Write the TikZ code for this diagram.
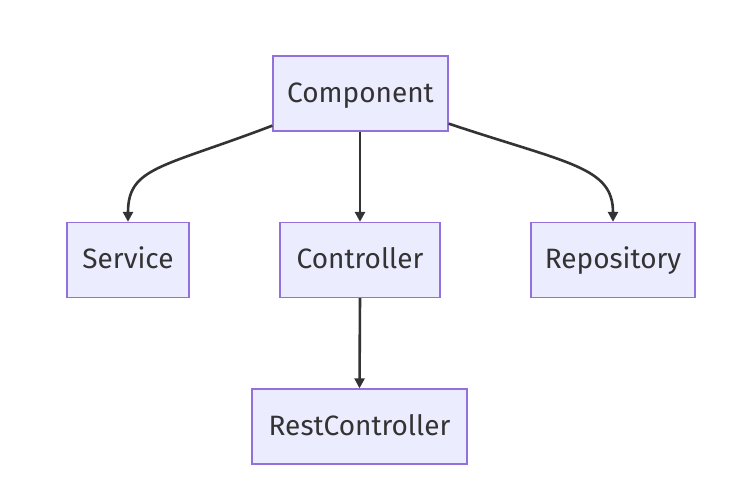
\documentclass[tikz,border=0pt]{standalone}
\usepackage{fontspec}
\setmainfont{Fira Sans}
\usetikzlibrary{arrows.meta}
\definecolor{nodefill}{HTML}{ECECFF}
\definecolor{nodeline}{HTML}{9370DB}
\definecolor{edgecol}{HTML}{333333}
\definecolor{txt}{HTML}{333333}
\begin{document}
\begin{tikzpicture}[x=1pt,y=-1pt,
  box/.style={draw=nodeline,fill=nodefill,line width=1.3pt,minimum height=75pt,inner sep=0pt,text=txt,text height=22pt,text depth=4pt,font=\fontsize{28}{32}\selectfont},
  edge/.style={draw=edgecol,line width=2.6pt,-{Triangle[length=10pt,width=10pt]}}]
\useasboundingbox (0,0) rectangle (748,492);
\fill[white] (0,0) rectangle (748,492);
\node[box,minimum width=175pt] (comp) at (360.5,93.5) {Component};
\node[box,minimum width=122pt] (serv) at (128,260) {Service};
\node[box,minimum width=160pt] (ctrl) at (360,260) {Controller};
\node[box,minimum width=164pt] (repo) at (613,260) {Repository};
\node[box,minimum width=215pt] (rest) at (359.5,426.5) {RestController};
\draw[edge] ([yshift=6pt]comp.south west) .. controls +(-110,42) and +(0,-55) .. (serv.north);
\draw[edge] (comp.south -| ctrl.north) -- (ctrl.north);
\draw[edge] ([yshift=8pt]comp.south east) .. controls +(120,40) and +(0,-55) .. (repo.north);
\draw[edge] (ctrl.south) -- (rest.north);
\end{tikzpicture}
\end{document}
